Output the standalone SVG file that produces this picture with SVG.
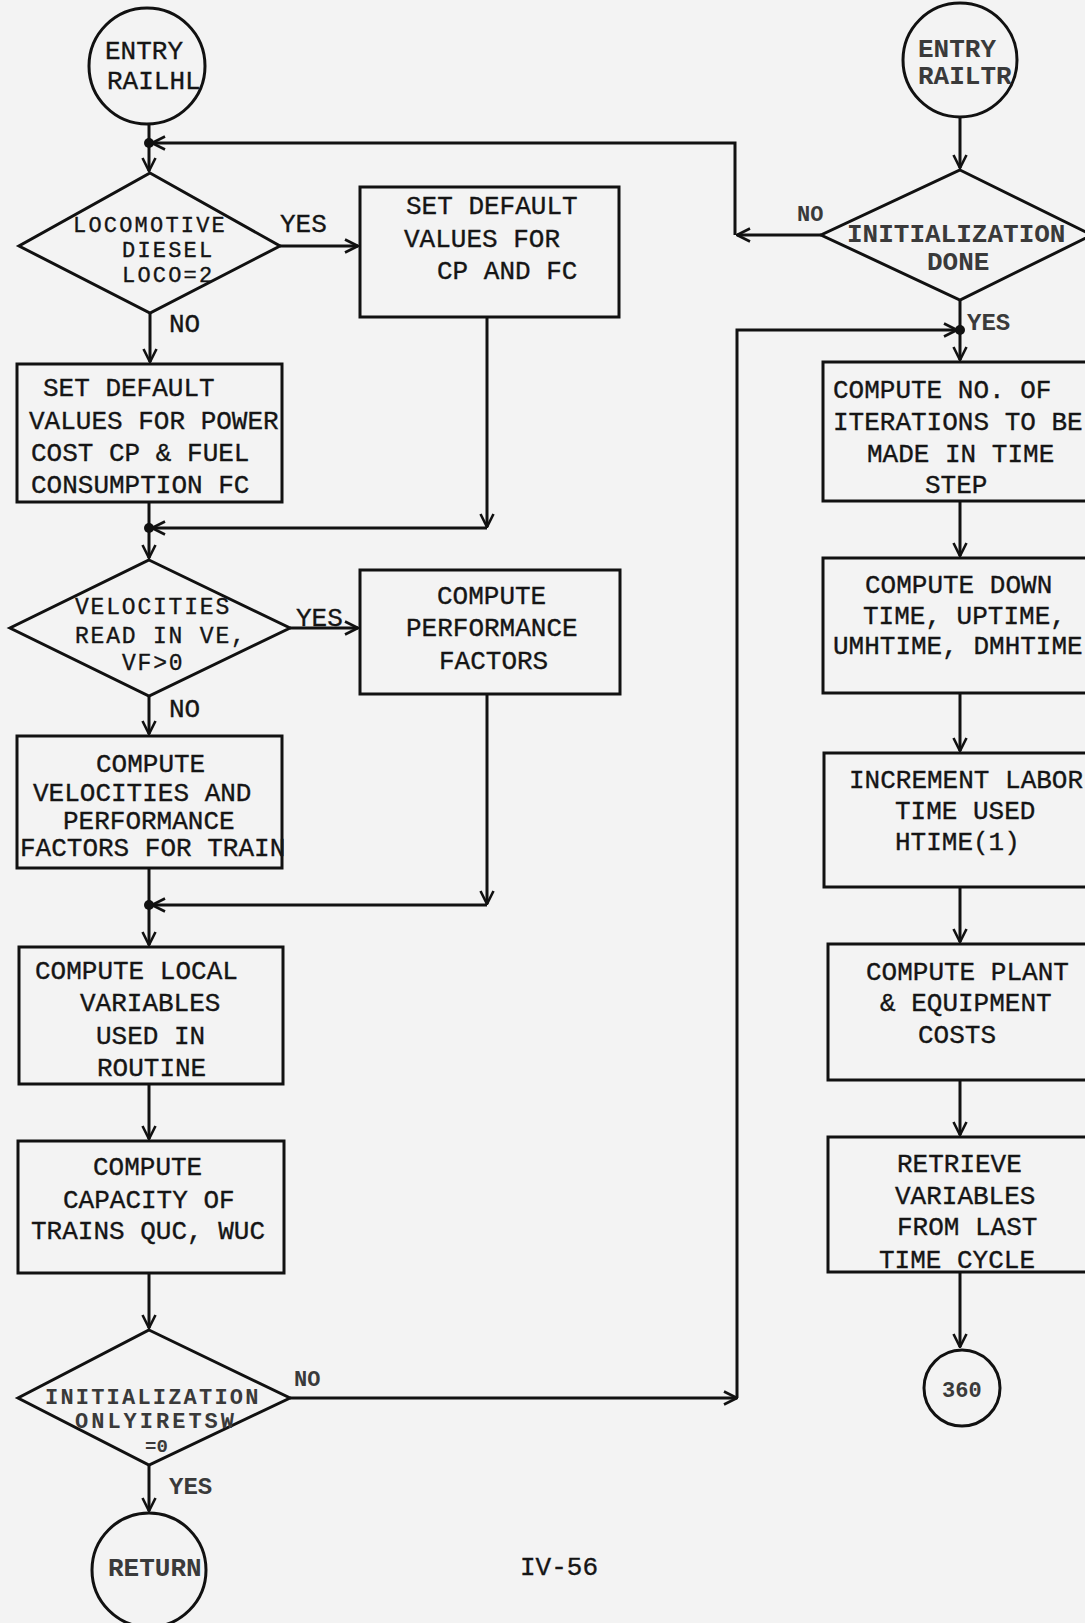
<svg xmlns="http://www.w3.org/2000/svg" width="1085" height="1623" viewBox="0 0 1085 1623">
<defs>
<marker id="arr" viewBox="0 0 16 16" refX="15" refY="8" markerWidth="16" markerHeight="16" markerUnits="userSpaceOnUse" orient="auto">
<path d="M2,1.5 L15,8 L2,14.5" fill="none" stroke="#111" stroke-width="2.6"/>
</marker>
<style>
.ln{fill:none;stroke:#111;stroke-width:3}
.sh{fill:none;stroke:#111;stroke-width:3}
.t{font-family:"Liberation Mono","Courier New",monospace;font-size:26px;fill:#151515;stroke:#151515;stroke-width:0.35}
.b{font-family:"Liberation Mono","Courier New",monospace;font-size:26px;font-weight:bold;fill:#3a3a3a}
.s{font-size:22px;letter-spacing:2.2px}
.m{font-size:23px;letter-spacing:1.8px}
.dot{fill:#111}
</style>
</defs>
<rect width="1085" height="1623" fill="#f3f3f3"/>

<g id="connectors">
<path class="ln" d="M149,124 V171" marker-end="url(#arr)"/>
<path class="ln" d="M821,235 H737" marker-end="url(#arr)"/>
<path class="ln" d="M735,235 V143 H152" marker-end="url(#arr)"/>
<path class="ln" d="M280,246 H358" marker-end="url(#arr)"/>
<path class="ln" d="M150,313 V362" marker-end="url(#arr)"/>
<path class="ln" d="M487,317 V527" marker-end="url(#arr)"/>
<path class="ln" d="M487,528 H152" marker-end="url(#arr)"/>
<path class="ln" d="M149,502 V558" marker-end="url(#arr)"/>
<path class="ln" d="M290,628 H358" marker-end="url(#arr)"/>
<path class="ln" d="M149,696 V734" marker-end="url(#arr)"/>
<path class="ln" d="M487,694 V904" marker-end="url(#arr)"/>
<path class="ln" d="M487,905 H152" marker-end="url(#arr)"/>
<path class="ln" d="M149,868 V945" marker-end="url(#arr)"/>
<path class="ln" d="M149,1084 V1139" marker-end="url(#arr)"/>
<path class="ln" d="M149,1273 V1328" marker-end="url(#arr)"/>
<path class="ln" d="M290,1398 H737" marker-end="url(#arr)"/>
<path class="ln" d="M737,1398 V330 H957" marker-end="url(#arr)"/>
<path class="ln" d="M149,1465 V1511" marker-end="url(#arr)"/>
<path class="ln" d="M960,117 V168" marker-end="url(#arr)"/>
<path class="ln" d="M960,300 V360" marker-end="url(#arr)"/>
<path class="ln" d="M960,501 V556" marker-end="url(#arr)"/>
<path class="ln" d="M960,693 V751" marker-end="url(#arr)"/>
<path class="ln" d="M960,887 V942" marker-end="url(#arr)"/>
<path class="ln" d="M960,1080 V1135" marker-end="url(#arr)"/>
<path class="ln" d="M960,1272 V1347" marker-end="url(#arr)"/>
<circle class="dot" cx="149" cy="143" r="5"/>
<circle class="dot" cx="149" cy="528" r="5"/>
<circle class="dot" cx="149" cy="905" r="5"/>
<circle class="dot" cx="960" cy="330" r="5"/>
<text class="t" x="280" y="232">YES</text>
<text class="t" x="169" y="332">NO</text>
<text class="t" x="296" y="626">YES</text>
<text class="t" x="169" y="717">NO</text>
<text class="b" x="294" y="1386" style="font-size:22px">NO</text>
<text class="b" x="169" y="1494" style="font-size:24px">YES</text>
<text class="b" x="797" y="221" style="font-size:22px">NO</text>
<text class="b" x="967" y="330" style="font-size:24px">YES</text>
</g>

<g id="entry-railhl">
<circle class="sh" cx="147" cy="66" r="58"/>
<text class="t" x="105" y="59">ENTRY</text>
<text class="t" x="107" y="89">RAILHL</text>
</g>

<g id="dec-locomotive">
<polygon class="sh" points="150,173 280,246 150,313 19,246"/>
<text class="t s" x="73" y="232">LOCOMOTIVE</text>
<text class="t s" x="122" y="257">DIESEL</text>
<text class="t s" x="122" y="282">LOCO=2</text>
</g>

<g id="box-default-cp-fc">
<rect class="sh" x="360" y="187" width="259" height="130"/>
<text class="t" x="406" y="214">SET DEFAULT</text>
<text class="t" x="404" y="247">VALUES FOR</text>
<text class="t" x="437" y="279">CP AND FC</text>
</g>

<g id="box-default-power">
<rect class="sh" x="17" y="364" width="265" height="138"/>
<text class="t" x="43" y="396">SET DEFAULT</text>
<text class="t" x="29" y="429">VALUES FOR POWER</text>
<text class="t" x="31" y="461">COST CP &amp; FUEL</text>
<text class="t" x="31" y="493">CONSUMPTION FC</text>
</g>

<g id="dec-velocities">
<polygon class="sh" points="149,560 290,628 149,696 10,628"/>
<text class="t m" x="75" y="614">VELOCITIES</text>
<text class="t m" x="75" y="643">READ IN VE,</text>
<text class="t m" x="122" y="670">VF&gt;0</text>
</g>

<g id="box-perf-factors">
<rect class="sh" x="360" y="570" width="260" height="124"/>
<text class="t" x="437" y="604">COMPUTE</text>
<text class="t" x="406" y="636">PERFORMANCE</text>
<text class="t" x="439" y="669">FACTORS</text>
</g>

<g id="box-velocities-train">
<rect class="sh" x="17" y="736" width="265" height="132"/>
<text class="t" x="96" y="772">COMPUTE</text>
<text class="t" x="33" y="801">VELOCITIES AND</text>
<text class="t" x="63" y="829">PERFORMANCE</text>
<text class="t" x="20" y="856">FACTORS FOR TRAIN</text>
</g>

<g id="box-local-vars">
<rect class="sh" x="19" y="947" width="264" height="137"/>
<text class="t" x="35" y="979">COMPUTE LOCAL</text>
<text class="t" x="80" y="1011">VARIABLES</text>
<text class="t" x="96" y="1044">USED IN</text>
<text class="t" x="97" y="1076">ROUTINE</text>
</g>

<g id="box-capacity">
<rect class="sh" x="18" y="1141" width="266" height="132"/>
<text class="t" x="93" y="1175">COMPUTE</text>
<text class="t" x="63" y="1208">CAPACITY OF</text>
<text class="t" x="31" y="1239">TRAINS QUC, WUC</text>
</g>

<g id="dec-init-only">
<polygon class="sh" points="149,1330 290,1398 149,1465 18,1398"/>
<text class="b s" x="45" y="1404">INITIALIZATION</text>
<text class="b s" x="75" y="1428" style="letter-spacing:3px">ONLYIRETSW</text>
<text class="b" x="145" y="1452" style="font-size:19px">=0</text>
</g>

<g id="return">
<circle class="sh" cx="149" cy="1570" r="57"/>
<text class="b" x="108" y="1576">RETURN</text>
</g>

<g id="page-number">
<text class="t" x="520" y="1575">IV-56</text>
</g>

<g id="entry-railtr">
<circle class="sh" cx="960" cy="60" r="57" stroke="#333"/>
<text class="b" x="918" y="57">ENTRY</text>
<text class="b" x="918" y="84">RAILTR</text>
</g>

<g id="dec-init-done">
<polygon class="sh" points="960,170 1092,235 960,300 821,235" stroke="#333"/>
<text class="b" x="847" y="242">INITIALIZATION</text>
<text class="b" x="927" y="270">DONE</text>
</g>

<g id="box-iterations">
<rect class="sh" x="823" y="362" width="280" height="139"/>
<text class="t" x="833" y="398">COMPUTE NO. OF</text>
<text class="t" x="833" y="430">ITERATIONS TO BE</text>
<text class="t" x="867" y="462">MADE IN TIME</text>
<text class="t" x="925" y="493">STEP</text>
</g>

<g id="box-downtime">
<rect class="sh" x="823" y="558" width="280" height="135"/>
<text class="t" x="865" y="593">COMPUTE DOWN</text>
<text class="t" x="863" y="624">TIME, UPTIME,</text>
<text class="t" x="833" y="654">UMHTIME, DMHTIME</text>
</g>

<g id="box-labor">
<rect class="sh" x="824" y="753" width="280" height="134"/>
<text class="t" x="849" y="788">INCREMENT LABOR</text>
<text class="t" x="895" y="819">TIME USED</text>
<text class="t" x="895" y="850">HTIME(1)</text>
</g>

<g id="box-plant">
<rect class="sh" x="828" y="944" width="280" height="136"/>
<text class="t" x="866" y="980">COMPUTE PLANT</text>
<text class="t" x="880" y="1011">&amp; EQUIPMENT</text>
<text class="t" x="918" y="1043">COSTS</text>
</g>

<g id="box-retrieve">
<rect class="sh" x="828" y="1137" width="280" height="135"/>
<text class="t" x="897" y="1172">RETRIEVE</text>
<text class="t" x="895" y="1204">VARIABLES</text>
<text class="t" x="897" y="1235">FROM LAST</text>
<text class="t" x="879" y="1268">TIME CYCLE</text>
</g>

<g id="connector-360">
<circle class="sh" cx="962" cy="1388" r="38"/>
<text class="b" x="942" y="1397" style="font-size:22px">360</text>
</g>
</svg>
